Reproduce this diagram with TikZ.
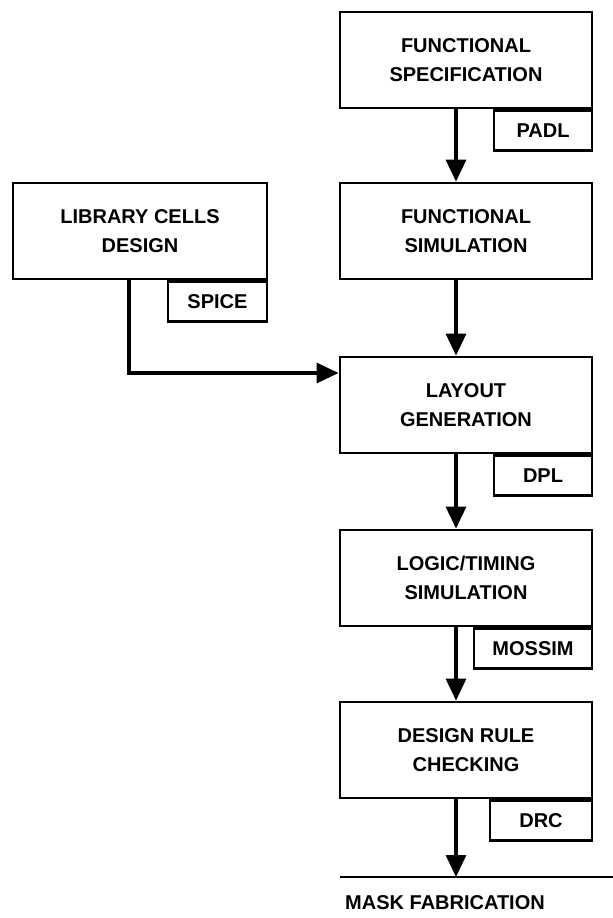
\documentclass[tikz,border=0pt]{standalone}
\usepackage{fontspec}
\setmainfont{Liberation Sans}
\usetikzlibrary{arrows.meta,positioning}
\tikzset{
  stage/.style={draw, line width=1.4pt, minimum width=126pt, minimum height=48pt,
    inner sep=0pt, align=center, font=\bfseries\fontsize{10}{14.5}\selectfont},
  toolbox/.style={draw, line width=1.4pt, anchor=north east, minimum height=20pt,
    inner sep=0pt, font=\bfseries\fontsize{10}{12}\selectfont},
  flow/.style={line width=1.6pt, -{Triangle[length=11pt,width=10pt]}},
}

\begin{document}
\begin{tikzpicture}[x=0.5pt, y=-0.5pt]
\useasboundingbox (0,0) rectangle (613,918);

%% Main design flow
\node[stage] (spec) at (466,60) {FUNCTIONAL\\SPECIFICATION};
\node[stage] (funcsim) at (466,231) {FUNCTIONAL\\SIMULATION};
\node[stage] (layout) at (466,405) {LAYOUT\\GENERATION};
\node[stage] (logic) at (466,578) {LOGIC/TIMING\\SIMULATION};
\node[stage] (drcheck) at (466,750) {DESIGN RULE\\CHECKING};

%% Side branch
\node[stage, minimum width=127pt] (libcells) at (140,231) {LIBRARY CELLS\\DESIGN};

%% Tool tags
\node[toolbox, minimum width=49pt] (padl) at (spec.south east) {PADL};
\node[toolbox, minimum width=49.5pt] (spice) at (libcells.south east) {SPICE};
\node[toolbox, minimum width=49pt] (dpl) at (layout.south east) {DPL};
\node[toolbox, minimum width=59pt] (mossim) at (logic.south east) {MOSSIM};
\node[toolbox, minimum width=51pt] (drc) at (drcheck.south east) {DRC};

%% Output rule
\coordinate (ruleL) at (340,877);
\coordinate (ruleR) at (613,877);
\draw[line width=1pt] (ruleL) -- (ruleR);
\node[font=\bfseries\fontsize{10}{12}\selectfont] (mask) at (445,903) {MASK FABRICATION};

%% Arrows
\draw[flow] ([xshift=-5pt]spec.south) -- ([xshift=-5pt]funcsim.north);
\draw[flow] ([xshift=-5pt]funcsim.south) -- ([xshift=-5pt]layout.north);
\draw[flow] ([xshift=-5pt]layout.south) -- ([xshift=-5pt]logic.north);
\draw[flow] ([xshift=-5pt]logic.south) -- ([xshift=-5pt]drcheck.north);
\draw[flow] ([xshift=-5pt]drcheck.south) -- ([xshift=-5pt]drcheck.south |- ruleL);
\draw[flow] ([xshift=-5.5pt]libcells.south) |- ([yshift=16pt]layout.west);

\end{tikzpicture}
\end{document}
